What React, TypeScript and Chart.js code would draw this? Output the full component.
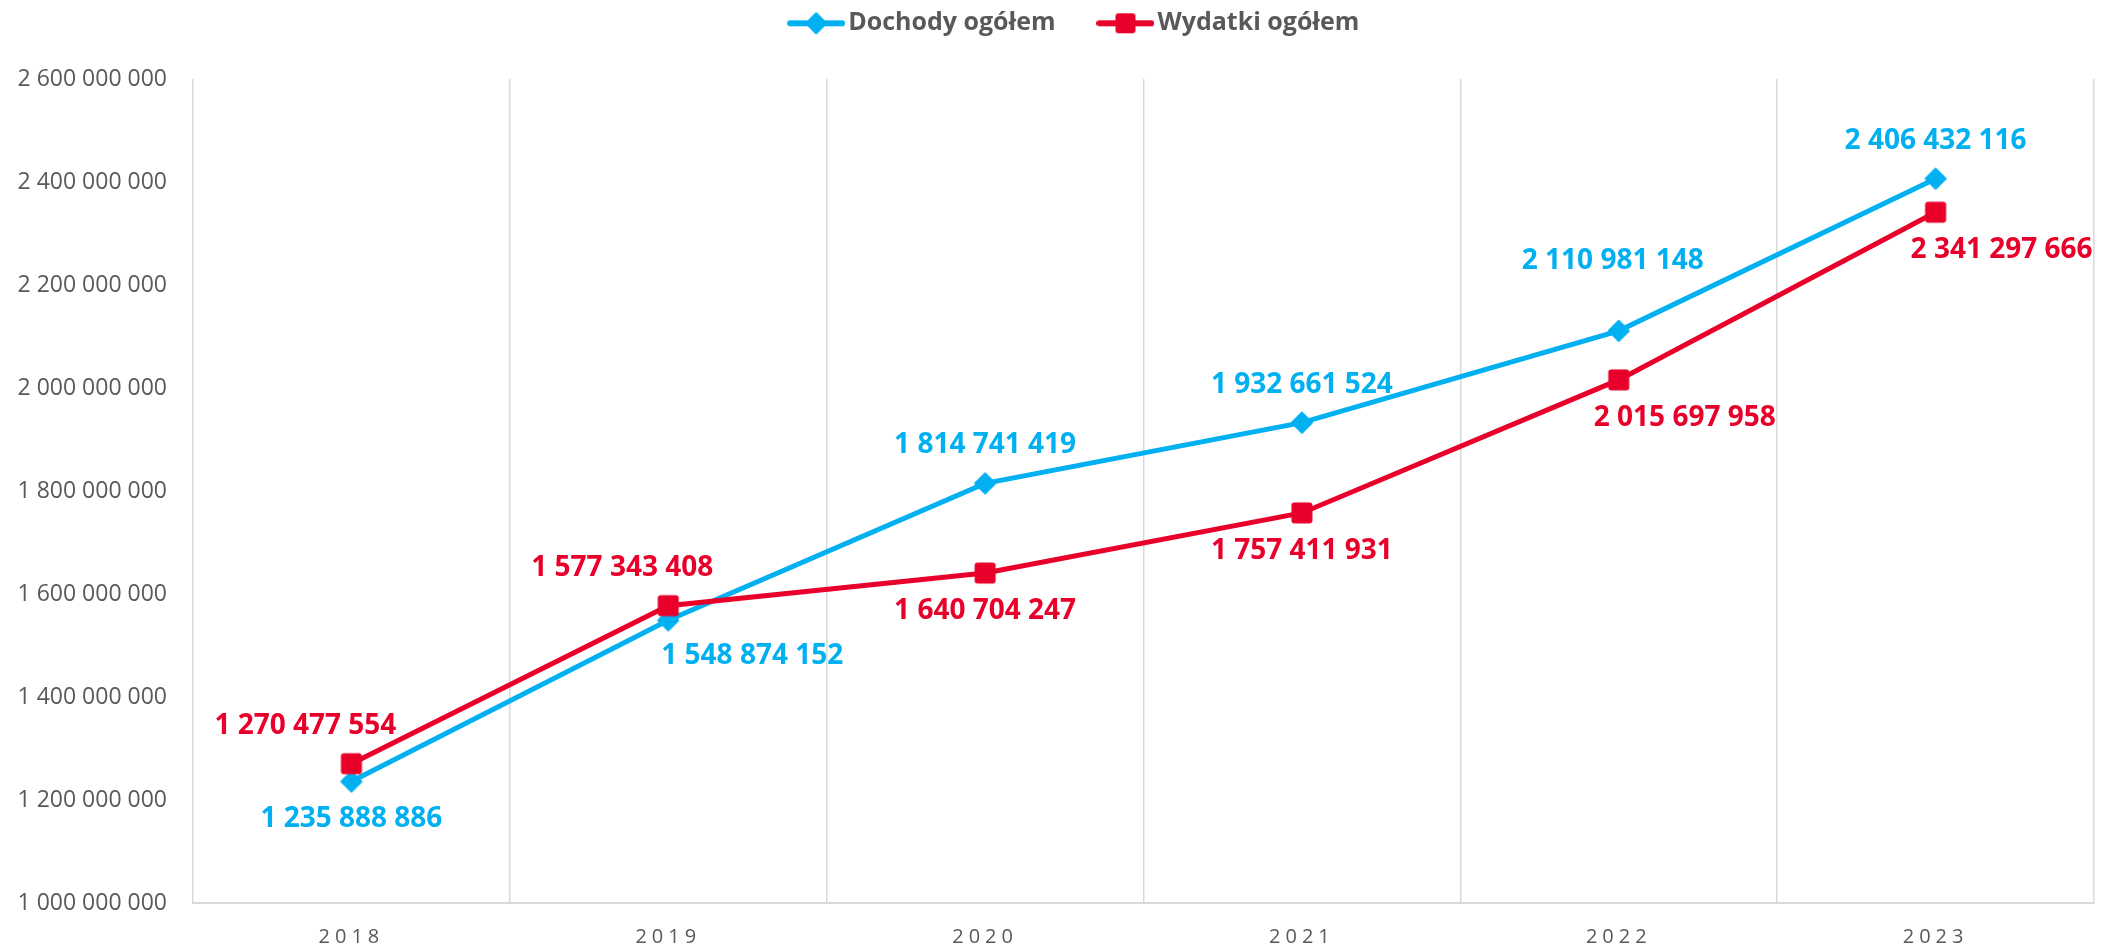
import React, { useEffect, useRef } from 'react';
import { Chart, registerables } from 'chart.js';

Chart.register(...registerables);

const years = ['2018', '2019', '2020', '2021', '2022', '2023'];
const dochody = [1235888886, 1548874152, 1814741419, 1932661524, 2110981148, 2406432116];
const wydatki = [1270477554, 1577343408, 1640704247, 1757411931, 2015697958, 2341297666];
const dochodyLabelPlace = ['below', 'belowFarRight', 'above', 'above', 'aboveFar', 'above'];
const wydatkiLabelPlace = ['aboveLeft', 'aboveLeft', 'below', 'below', 'belowRight', 'belowRight'];
const yMin = 1000000000;
const yMax = 2600000000;
const yStep = 200000000;

const BLUE = '#00B0F0';
const RED = '#E8002B';
const GRAY_TEXT = '#595959';
const GRID = '#D9D9D9';
const FONT = '"Open Sans", "DejaVu Sans", sans-serif';

const fmt = (n: number) => Math.round(n).toString().replace(/\B(?=(\d{3})+(?!\d))/g, ' ');

function drawShape(g: CanvasRenderingContext2D, shape: 'diamond' | 'square', cx: number, cy: number, half: number) {
  g.beginPath();
  if (shape === 'diamond') {
    g.moveTo(cx, cy - half);
    g.lineTo(cx + half, cy);
    g.lineTo(cx, cy + half);
    g.lineTo(cx - half, cy);
    g.closePath();
    g.lineJoin = 'round';
    g.lineWidth = 2;
    g.fill();
    g.stroke();
  } else {
    (g as any).roundRect(cx - half, cy - half, half * 2, half * 2, 3);
    g.fill();
  }
}

function makeMarker(color: string, shape: 'diamond' | 'square') {
  const c = document.createElement('canvas');
  c.width = 24;
  c.height = 24;
  const g = c.getContext('2d')!;
  g.fillStyle = color;
  g.strokeStyle = color;
  drawShape(g, shape, 12, 12, shape === 'diamond' ? 10 : 10.5);
  return c;
}

function makeLegendIcon(color: string, shape: 'diamond' | 'square') {
  const c = document.createElement('canvas');
  c.width = 58;
  c.height = 24;
  const g = c.getContext('2d')!;
  g.strokeStyle = color;
  g.lineWidth = 6;
  g.lineCap = 'round';
  g.beginPath();
  g.moveTo(3, 12);
  g.lineTo(55, 12);
  g.stroke();
  g.fillStyle = color;
  drawShape(g, shape, 29, 12, 10);
  return c;
}

const placeOffset: Record<string, { dx: number; dy: number }> = {
  above: { dx: 0, dy: -38 },
  aboveLeft: { dx: -46, dy: -38 },
  aboveFar: { dx: -6, dy: -70 },
  below: { dx: 0, dy: 38 },
  belowRight: { dx: 66, dy: 38 },
  belowFarRight: { dx: 84, dy: 36 },
};

const dataLabelPlugin = {
  id: 'dataLabels',
  afterDatasetsDraw(chart: any) {
    const ctx = chart.ctx;
    chart.data.datasets.forEach((ds: any, i: number) => {
      const meta = chart.getDatasetMeta(i);
      meta.data.forEach((pt: any, j: number) => {
        const text = fmt(ds.data[j]);
        const off = placeOffset[ds.labelPlace[j]];
        ctx.save();
        ctx.font = `bold 28px ${FONT}`;
        ctx.fillStyle = ds.borderColor;
        ctx.textAlign = 'center';
        ctx.textBaseline = 'middle';
        const w = ctx.measureText(text).width;
        let x = pt.x + off.dx;
        if (x + w / 2 > chart.width - 3) x = chart.width - 3 - w / 2;
        ctx.fillText(text, x, pt.y + off.dy);
        ctx.restore();
      });
    });
  },
};

const axisPatchPlugin = {
  id: 'axisPatch',
  beforeDraw(chart: any) {
    const sx = chart.scales.x;
    if (sx && !sx._lsPatched) {
      const orig = sx.drawLabels;
      sx.drawLabels = function (area: any) {
        const c = this.ctx;
        c.save();
        c.letterSpacing = '5px';
        orig.call(this, area);
        c.restore();
      };
      sx._lsPatched = true;
    }
    const sy = chart.scales.y;
    if (sy && !sy._clipPatched) {
      sy._computeLabelArea = () => undefined;
      sy._clipPatched = true;
    }
  },
};

export default function App() {
  const ref = useRef<HTMLCanvasElement | null>(null);

  useEffect(() => {
    document.body.style.margin = '0';
    const canvas = ref.current!;
    const icons = [makeLegendIcon(BLUE, 'diamond'), makeLegendIcon(RED, 'square')];
    const chart = new Chart(canvas, {
      type: 'line',
      data: {
        labels: years,
        datasets: [
          {
            label: 'Dochody ogółem',
            data: dochody,
            borderColor: BLUE,
            backgroundColor: BLUE,
            borderWidth: 5,
            pointStyle: makeMarker(BLUE, 'diamond'),
            pointRadius: 10,
            tension: 0,
            order: 1,
            labelPlace: dochodyLabelPlace,
          } as any,
          {
            label: 'Wydatki ogółem',
            data: wydatki,
            borderColor: RED,
            backgroundColor: RED,
            borderWidth: 5,
            pointStyle: makeMarker(RED, 'square'),
            pointRadius: 11,
            tension: 0,
            order: 0,
            labelPlace: wydatkiLabelPlace,
          } as any,
        ],
      },
      options: {
        animation: false,
        responsive: true,
        maintainAspectRatio: false,
        layout: { padding: { top: -39.7, left: 46, right: 0, bottom: -21 } },
        plugins: {
          tooltip: { enabled: false },
          title: {
            display: true,
            text: '',
            weight: 500,
            font: { size: 10 },
            padding: { top: 0, bottom: 21.2 },
          } as any,
          legend: {
            display: true,
            position: 'top',
            labels: {
              usePointStyle: true,
              pointStyleWidth: 39,
              padding: 50.5,
              color: GRAY_TEXT,
              font: { family: FONT, size: 25, weight: 'bold' },
              sort: (a: any, b: any) => a.datasetIndex - b.datasetIndex,
              generateLabels: (ch: any) => {
                const items = Chart.defaults.plugins.legend.labels.generateLabels(ch);
                return items.map((it: any) => ({ ...it, pointStyle: icons[it.datasetIndex] }));
              },
            },
          },
        },
        scales: {
          x: {
            offset: true,
            grid: { display: true, offset: true, color: GRID, lineWidth: 1.5, drawTicks: false },
            border: { display: true, color: GRID, width: 2 },
            ticks: { color: GRAY_TEXT, font: { family: FONT, size: 20 }, padding: 22 },
          },
          y: {
            min: yMin,
            max: yMax,
            grid: { display: false, drawTicks: false },
            border: { display: false },
            ticks: {
              stepSize: yStep,
              color: GRAY_TEXT,
              font: { family: FONT, size: 23 },
              padding: 26,
              callback: (v: any) => fmt(Number(v)),
            },
            afterFit: (scale: any) => {
              scale.width = 147;
            },
          },
        },
      },
      plugins: [dataLabelPlugin, axisPatchPlugin],
    });
    return () => chart.destroy();
  }, []);

  return (
    <div style={{ position: 'relative', width: '2110px', height: '950px', overflow: 'hidden' }}>
      <canvas ref={ref} style={{ display: 'block' }} />
    </div>
  );
}
